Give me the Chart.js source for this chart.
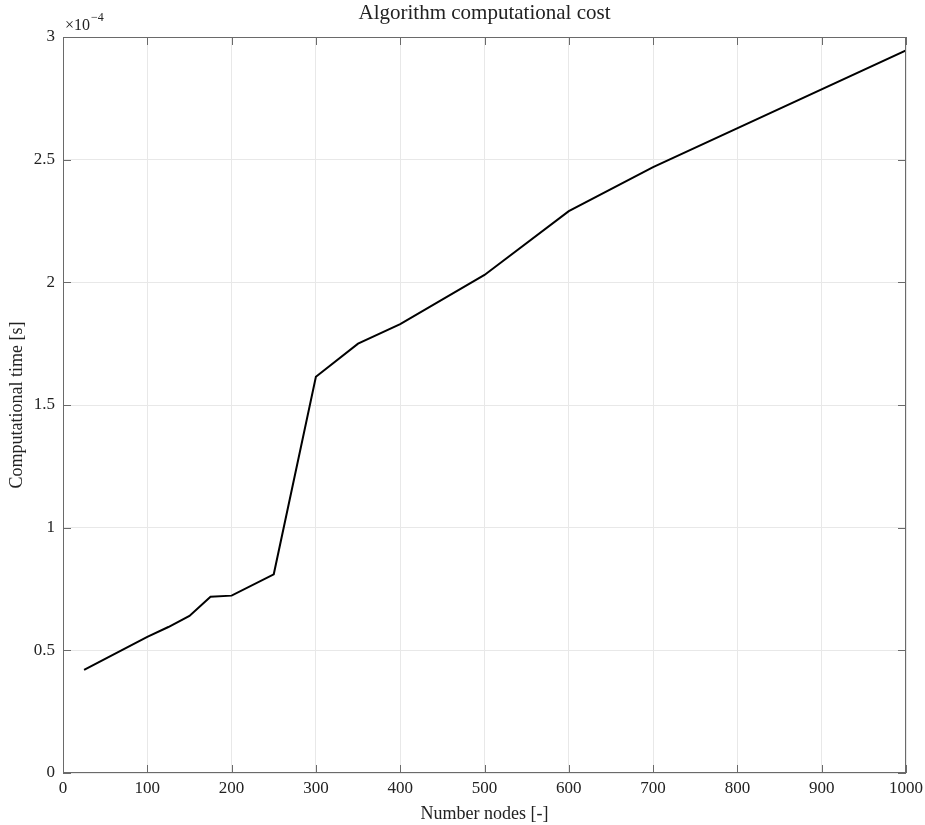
<!DOCTYPE html>
<html lang="en">
<head>
  <meta charset="UTF-8">
  <title>Algorithm computational cost</title>
  <script src="https://cdn.jsdelivr.net/npm/chart.js"></script>
  <style>
    body { margin: 0; background: #fff; }
    #wrap { width: 925px; height: 825px; }
  </style>
</head>
<body>
<div id="wrap"><canvas id="costChart"></canvas></div>

<script>
// number of nodes and computational time (in units of 1e-4 s)
const nodes = [25, 50, 75, 100, 125, 150, 175, 200, 250, 300, 350, 400, 500, 600, 700, 1000];
const timeE4 = [0.42, 0.465, 0.51, 0.555, 0.595, 0.64, 0.718, 0.723, 0.81, 1.615, 1.75, 1.83, 2.03, 2.29, 2.47, 2.945];
const xTicks = [0, 100, 200, 300, 400, 500, 600, 700, 800, 900, 1000];
const yTicks = [0, 0.5, 1, 1.5, 2, 2.5, 3];

const serif = "'Liberation Serif', 'DejaVu Serif', serif";
const axisColor = '#6a6a6a';

// MATLAB-like box, inward ticks, title and exponent label
const matlabBox = {
  id: 'matlabBox',
  afterDraw(chart) {
    const { ctx, chartArea: a, scales } = chart;
    ctx.save();
    ctx.strokeStyle = axisColor;
    ctx.lineWidth = 1;
    ctx.strokeRect(a.left + 0.5, a.top + 0.5, a.right - a.left - 1, a.bottom - a.top - 1);
    ctx.beginPath();
    xTicks.forEach(v => {
      const x = Math.round(scales.x.getPixelForValue(v)) + 0.5;
      ctx.moveTo(x, a.bottom); ctx.lineTo(x, a.bottom - 8);
      ctx.moveTo(x, a.top); ctx.lineTo(x, a.top + 8);
    });
    yTicks.forEach(v => {
      const y = Math.round(scales.y.getPixelForValue(v)) + 0.5;
      ctx.moveTo(a.left, y); ctx.lineTo(a.left + 8, y);
      ctx.moveTo(a.right, y); ctx.lineTo(a.right - 8, y);
    });
    ctx.stroke();

    ctx.fillStyle = '#222';
    ctx.textAlign = 'center';
    ctx.textBaseline = 'middle';
    ctx.font = '21px ' + serif;
    ctx.fillText('Algorithm computational cost', (a.left + a.right) / 2, 13);

    ctx.textAlign = 'left';
    ctx.font = '16px ' + serif;
    ctx.fillText('\u00d710', a.left + 2, 26);
    const w = ctx.measureText('\u00d710').width;
    ctx.font = '12px ' + serif;
    ctx.fillText('\u22124', a.left + 2 + w + 1, 18);
    ctx.restore();
  }
};

new Chart(document.getElementById('costChart'), {
  type: 'line',
  data: {
    datasets: [{
      label: 'Computational time',
      data: nodes.map((n, i) => ({ x: n, y: timeE4[i] })),
      borderColor: '#000',
      borderWidth: 2,
      pointRadius: 0,
      tension: 0,
      fill: false
    }]
  },
  options: {
    responsive: true,
    maintainAspectRatio: false,
    animation: false,
    layout: { padding: { top: 37, right: 19, left: 6, bottom: 0 } },
    plugins: { legend: { display: false }, tooltip: { enabled: false } },
    scales: {
      x: {
        type: 'linear', min: 0, max: 1000,
        afterBuildTicks: s => { s.ticks = xTicks.map(v => ({ value: v })); },
        afterFit: s => { s.height = 52; s.paddingLeft = 0; s.paddingRight = 0; },
        grid: { color: '#e8e8e8', drawTicks: false },
        border: { display: false },
        ticks: { color: '#222', font: { family: serif, size: 17 }, padding: 5, maxRotation: 0, callback: v => String(v) },
        title: { display: true, text: 'Number nodes [-]', color: '#222', font: { family: serif, size: 18 }, padding: { top: 0, bottom: 0 } }
      },
      y: {
        type: 'linear', min: 0, max: 3,
        afterBuildTicks: s => { s.ticks = yTicks.map(v => ({ value: v })); },
        afterFit: s => { s.width = 57; s.paddingTop = 0; s.paddingBottom = 0; },
        grid: { color: '#e8e8e8', drawTicks: false },
        border: { display: false },
        ticks: { color: '#222', font: { family: serif, size: 17 }, padding: 8, callback: v => String(v) },
        title: { display: true, text: 'Computational time [s]', color: '#222', font: { family: serif, size: 18 }, padding: { top: 0, bottom: 0 } }
      }
    }
  },
  plugins: [matlabBox]
});
</script>
</body>
</html>
